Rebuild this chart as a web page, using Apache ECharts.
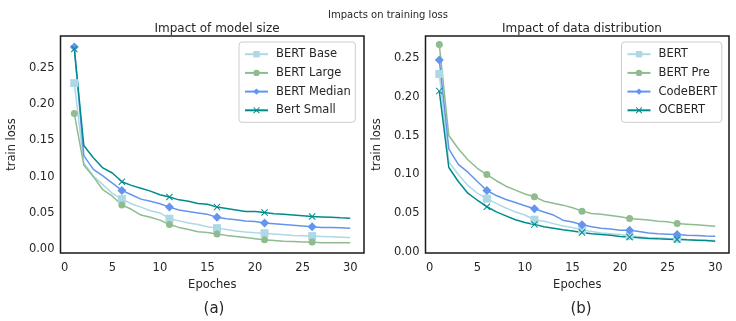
<!DOCTYPE html>
<html>
<head>
<meta charset="utf-8">
<script src="https://cdn.jsdelivr.net/npm/echarts@6/dist/echarts.min.js"></script>
<style>
  html, body { margin: 0; padding: 0; background: #fff; }
  #chart { width: 736px; height: 321px; }
</style>
</head>
<body>
<div id="chart"></div>
<script>
const epochs = [1, 2, 3, 4, 5, 6, 7, 8, 9, 10, 11, 12, 13, 14, 15, 16, 17, 18, 19, 20, 21, 22, 23, 24, 25, 26, 27, 28, 29, 30]
const xTicks = [0, 5, 10, 15, 20, 25, 30]
const yTicks = [0, 0.05, 0.1, 0.15, 0.2, 0.25]

// (a) model size
const bertBase = [0.229, 0.119, 0.101, 0.089, 0.077, 0.069, 0.0626, 0.058, 0.053, 0.050, 0.042, 0.039, 0.036, 0.034, 0.031, 0.029, 0.027, 0.025, 0.0235, 0.0226, 0.022, 0.021, 0.020, 0.019, 0.0185, 0.018, 0.0175, 0.017, 0.0165, 0.016]
const bertLarge = [0.187, 0.116, 0.100, 0.082, 0.073, 0.061, 0.055, 0.047, 0.044, 0.040, 0.034, 0.030, 0.027, 0.024, 0.023, 0.021, 0.019, 0.0175, 0.016, 0.0145, 0.013, 0.012, 0.011, 0.0107, 0.010, 0.0097, 0.009, 0.009, 0.0088, 0.0087]
const bertMedian = [0.279, 0.129, 0.110, 0.101, 0.091, 0.081, 0.075, 0.069, 0.066, 0.0626, 0.058, 0.054, 0.052, 0.050, 0.048, 0.044, 0.042, 0.0406, 0.039, 0.038, 0.036, 0.035, 0.034, 0.033, 0.032, 0.031, 0.030, 0.030, 0.0295, 0.029]
const bertSmall = [0.276, 0.143, 0.126, 0.112, 0.105, 0.093, 0.088, 0.084, 0.080, 0.075, 0.072, 0.068, 0.066, 0.063, 0.062, 0.058, 0.056, 0.054, 0.052, 0.052, 0.0506, 0.049, 0.048, 0.047, 0.046, 0.045, 0.0445, 0.044, 0.0432, 0.0428]

// (b) data distribution
const bert = [0.229, 0.116, 0.100, 0.086, 0.076, 0.069, 0.063, 0.057, 0.052, 0.048, 0.042, 0.040, 0.037, 0.034, 0.032, 0.029, 0.027, 0.025, 0.024, 0.023, 0.021, 0.020, 0.019, 0.0188, 0.018, 0.0175, 0.0167, 0.016, 0.0158, 0.0154]
const bertPre = [0.2667, 0.150, 0.133, 0.119, 0.108, 0.100, 0.092, 0.085, 0.080, 0.075, 0.0714, 0.0658, 0.063, 0.0607, 0.0573, 0.053, 0.050, 0.049, 0.0474, 0.0457, 0.0436, 0.0427, 0.0415, 0.040, 0.0393, 0.037, 0.0363, 0.0355, 0.0346, 0.0337]
const codeBert = [0.247, 0.133, 0.113, 0.103, 0.091, 0.0795, 0.073, 0.068, 0.064, 0.060, 0.056, 0.052, 0.048, 0.0414, 0.039, 0.0355, 0.033, 0.031, 0.030, 0.0285, 0.0285, 0.027, 0.025, 0.024, 0.0235, 0.023, 0.022, 0.0217, 0.021, 0.0209]
const ocBert = [0.207, 0.109, 0.091, 0.076, 0.067, 0.0586, 0.052, 0.047, 0.042, 0.0385, 0.036, 0.033, 0.031, 0.029, 0.0275, 0.0256, 0.024, 0.023, 0.022, 0.0205, 0.0197, 0.0189, 0.018, 0.0175, 0.0171, 0.0167, 0.0162, 0.0158, 0.0154, 0.0145]

const textColor = '#262626'
const fontFamily = 'DejaVu Sans'
const xMark = 'path://M0,1L1,0L5,4L9,0L10,1L6,5L10,9L9,10L5,6L1,10L0,9L4,5Z'

const styles = {
  base: { color: '#add8e6', symbol: 'rect', size: 8 },
  large: { color: '#8fbc8f', symbol: 'circle', size: 7 },
  median: { color: '#6495ed', symbol: 'diamond', size: 9 },
  small: { color: '#008b8b', symbol: xMark, size: 7 }
}

const makeSeries = (name, values, st, idx) => ({
  name: name,
  type: 'line',
  xAxisIndex: idx,
  yAxisIndex: idx,
  data: epochs.map((e, i) => [e, values[i]]),
  symbol: st.symbol,
  showAllSymbol: true,
  symbolSize: (val, params) => (params.dataIndex % 5 === 0 ? st.size : 0),
  lineStyle: { color: st.color, width: 1.5 },
  itemStyle: { color: st.color },
  emphasis: { disabled: true }
})

const makeXAxis = (idx) => ({
  type: 'value',
  gridIndex: idx,
  min: -0.45,
  max: 31.45,
  name: 'Epoches',
  nameLocation: 'middle',
  nameGap: 26,
  nameTextStyle: { color: textColor, fontSize: 11.5, fontFamily: fontFamily },
  axisLine: { show: false },
  axisTick: { show: false },
  splitLine: { show: false },
  axisLabel: { customValues: xTicks, color: textColor, fontSize: 11.5, fontFamily: fontFamily, margin: 9 }
})

const makeYAxis = (idx, min, max) => ({
  type: 'value',
  gridIndex: idx,
  min: min,
  max: max,
  name: 'train loss',
  nameLocation: 'middle',
  nameGap: 42,
  nameTextStyle: { color: textColor, fontSize: 11.5, fontFamily: fontFamily },
  axisLine: { show: false },
  axisTick: { show: false },
  splitLine: { show: false },
  axisLabel: {
    customValues: yTicks,
    color: textColor,
    fontSize: 11.5,
    fontFamily: fontFamily,
    margin: 6,
    formatter: (v) => v.toFixed(2)
  }
})

const makeLegend = (names, left) => ({
  data: names,
  orient: 'vertical',
  left: left,
  top: 42,
  itemWidth: 23,
  itemHeight: 8,
  itemGap: 6.7,
  padding: [6.2, 4.5, 6, 5],
  backgroundColor: 'rgba(255,255,255,0.8)',
  borderColor: '#cccccc',
  borderWidth: 1,
  borderRadius: 3,
  selectedMode: false,
  textStyle: { color: textColor, fontSize: 11.5, fontFamily: fontFamily, lineHeight: 12, padding: [0, 0, 0, 3] }
})

const chart = echarts.init(document.getElementById('chart'))

const option = {
  animation: false,
  backgroundColor: '#fff',
  title: [
    { text: 'Impacts on training loss', left: 383, top: 5, textAlign: 'center',
      textStyle: { color: textColor, fontSize: 10, fontWeight: 'normal', fontFamily: fontFamily } },
    { text: 'Impact of model size', left: 212, top: 18, textAlign: 'center',
      textStyle: { color: textColor, fontSize: 12, fontWeight: 'normal', fontFamily: fontFamily } },
    { text: 'Impact of data distribution', left: 577, top: 18, textAlign: 'center',
      textStyle: { color: textColor, fontSize: 12, fontWeight: 'normal', fontFamily: fontFamily } },
    { text: '(a)', left: 209, top: 297, textAlign: 'center',
      textStyle: { color: textColor, fontSize: 15, fontWeight: 'normal', fontFamily: fontFamily } },
    { text: '(b)', left: 576, top: 297, textAlign: 'center',
      textStyle: { color: textColor, fontSize: 15, fontWeight: 'normal', fontFamily: fontFamily } }
  ],
  legend: [
    makeLegend(['BERT Base', 'BERT Large', 'BERT Median', 'Bert Small'], 239),
    makeLegend(['BERT', 'BERT Pre', 'CodeBERT', 'OCBERT'], 621.5)
  ],
  grid: [
    { left: 60.5, top: 36, width: 303.5, height: 217, show: true, borderColor: '#1a1a1a', borderWidth: 1.5, backgroundColor: '#fff' },
    { left: 425.5, top: 36, width: 303.5, height: 217, show: true, borderColor: '#1a1a1a', borderWidth: 1.5, backgroundColor: '#fff' }
  ],
  xAxis: [makeXAxis(0), makeXAxis(1)],
  yAxis: [makeYAxis(0, -0.0053, 0.294), makeYAxis(1, -0.0007, 0.2777)],
  series: [
    makeSeries('BERT Base', bertBase, styles.base, 0),
    makeSeries('BERT Large', bertLarge, styles.large, 0),
    makeSeries('BERT Median', bertMedian, styles.median, 0),
    makeSeries('Bert Small', bertSmall, styles.small, 0),
    makeSeries('BERT', bert, styles.base, 1),
    makeSeries('BERT Pre', bertPre, styles.large, 1),
    makeSeries('CodeBERT', codeBert, styles.median, 1),
    makeSeries('OCBERT', ocBert, styles.small, 1)
  ]
}

chart.setOption(option)
</script>
</body>
</html>
